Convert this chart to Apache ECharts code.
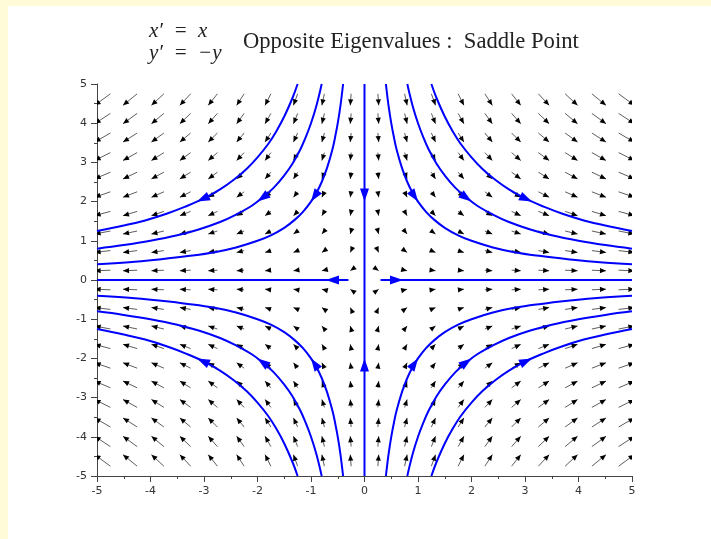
<!DOCTYPE html>
<html>
<head>
<meta charset="utf-8">
<script src="https://cdn.jsdelivr.net/npm/echarts@6/dist/echarts.min.js"></script>
<style>
  html, body { margin: 0; padding: 0; background: #fffad8; width: 711px; height: 539px; overflow: hidden; }
  #chart { position: absolute; left: 8px; top: 6px; width: 703px; height: 533px; background: #ffffff; }
</style>
</head>
<body>
<div id="chart"></div>
<script>
// Saddle point system: x' = x, y' = -y

// Sample grid of the direction field
const gridX = [-4.75, -4.25, -3.75, -3.25, -2.75, -2.25, -1.75, -1.25, -0.75, -0.25,
               0.25, 0.75, 1.25, 1.75, 2.25, 2.75, 3.25, 3.75, 4.25, 4.75];
const gridY = [-4.75, -4.25, -3.75, -3.25, -2.75, -2.25, -1.75, -1.25, -0.75, -0.25,
               0.25, 0.75, 1.25, 1.75, 2.25, 2.75, 3.25, 3.75, 4.25, 4.75];
// arrow length per unit of speed (in axis units)
const fieldScale = 0.062;

// Orbits of the first quadrant (x*y constant); the other quadrants mirror them
const orbitA = [[0.4, 5], [0.45, 4.44], [0.5, 4], [0.55, 3.64], [0.6, 3.33], [0.7, 2.86], [0.8, 2.5],
                [0.9, 2.22], [1, 2], [1.15, 1.74], [1.3, 1.54], [1.5, 1.33], [1.75, 1.14], [2, 1],
                [2.4, 0.83], [2.8, 0.71], [3.3, 0.61], [3.8, 0.53], [4.4, 0.45], [5, 0.4]];
const orbitB = [[0.8, 5], [0.9, 4.44], [1, 4], [1.1, 3.64], [1.2, 3.33], [1.35, 2.96], [1.5, 2.67],
                [1.7, 2.35], [1.9, 2.11], [2.1, 1.9], [2.4, 1.67], [2.7, 1.48], [3.1, 1.29],
                [3.5, 1.14], [4, 1], [4.5, 0.89], [5, 0.8]];
const orbitC = [[1.25, 5], [1.35, 4.63], [1.5, 4.17], [1.65, 3.79], [1.8, 3.47], [2, 3.13],
                [2.2, 2.84], [2.45, 2.55], [2.7, 2.31], [3, 2.08], [3.35, 1.87], [3.7, 1.69],
                [4.1, 1.52], [4.5, 1.39], [5, 1.25]];
// Orbits along the eigen-directions
const axisOrbitUp = [[0, 5], [0, 0]];
const axisOrbitDown = [[0, -5], [0, 0]];
const axisOrbitRight = [[0.3, 0], [5, 0]];
const axisOrbitLeft = [[-0.3, 0], [-5, 0]];
// Direction marks on the orbits (tip positions)
const orbitArrowTips = [[1, 2], [2, 2], [3.13, 2]];
const axisArrowTips = [[0, 2], [0, -2], [0.72, 0], [-0.72, 0]];

const tickValues = [-5, -4, -3, -2, -1, 0, 1, 2, 3, 4, 5];

// the vector field of the system
function field(x, y) { return [x, -y]; }

function mirror(points, sx, sy) { return points.map(p => [p[0] * sx, p[1] * sy]); }

const quadrants = [[1, 1], [-1, 1], [1, -1], [-1, -1]];
const orbitLines = [];
quadrants.forEach(q => [orbitA, orbitB, orbitC].forEach(o => orbitLines.push(mirror(o, q[0], q[1]))));
orbitLines.push(axisOrbitUp, axisOrbitDown, axisOrbitRight, axisOrbitLeft);

const arrowTips = [];
quadrants.forEach(q => orbitArrowTips.forEach(p => arrowTips.push([p[0] * q[0], p[1] * q[1]])));
axisArrowTips.forEach(p => arrowTips.push(p));

const fieldData = [];
gridX.forEach(x => gridY.forEach(y => fieldData.push([x, y])));

function headPoints(tip, ux, uy, len, half) {
  const bx = tip[0] - ux * len, by = tip[1] - uy * len;
  return [[tip[0], tip[1]], [bx - uy * half, by + ux * half], [bx + uy * half, by - ux * half]];
}

const chart = echarts.init(document.getElementById('chart'), null, { renderer: 'canvas' });

const series = [];
orbitLines.forEach(pts => {
  series.push({
    type: 'line',
    data: pts,
    showSymbol: false,
    smooth: 0.4,
    clip: true,
    silent: true,
    lineStyle: { color: '#0000ff', width: 2 },
    z: 3
  });
});

series.push({
  type: 'custom',
  data: fieldData,
  clip: true,
  silent: true,
  z: 2,
  renderItem(params, api) {
    const x = api.value(0), y = api.value(1);
    const f = field(x, y);
    const p0 = api.coord([x, y]);
    const p1 = api.coord([x + f[0] * fieldScale, y + f[1] * fieldScale]);
    const dx = p1[0] - p0[0], dy = p1[1] - p0[1];
    const len = Math.hypot(dx, dy) || 1;
    const ux = dx / len, uy = dy / len;
    return {
      type: 'group',
      children: [
        { type: 'line', shape: { x1: p0[0], y1: p0[1], x2: p1[0], y2: p1[1] },
          style: { stroke: '#333', lineWidth: 0.8 } },
        { type: 'polygon', shape: { points: headPoints(p1, ux, uy, 6, 2.6) },
          style: { fill: '#000' } }
      ]
    };
  }
});

series.push({
  type: 'custom',
  data: arrowTips,
  clip: true,
  silent: true,
  z: 4,
  renderItem(params, api) {
    const x = api.value(0), y = api.value(1);
    const f = field(x, y);
    const p0 = api.coord([x, y]);
    const p1 = api.coord([x + f[0] * 0.01, y + f[1] * 0.01]);
    const dx = p1[0] - p0[0], dy = p1[1] - p0[1];
    const len = Math.hypot(dx, dy) || 1;
    return {
      type: 'polygon',
      shape: { points: headPoints(p0, dx / len, dy / len, 13, 4.5) },
      style: { fill: '#0000ff' }
    };
  }
});

const axisCommon = {
  type: 'value',
  min: -5,
  max: 5,
  interval: 1,
  axisLine: { show: true, onZero: false, lineStyle: { color: '#444', width: 1 } },
  axisTick: { show: true, inside: false, length: 6, lineStyle: { color: '#444' } },
  minorTick: { show: true, splitNumber: 2, length: 3, lineStyle: { color: '#444' } },
  splitLine: { show: false },
  axisLabel: {
    color: '#333',
    fontFamily: 'DejaVu Sans',
    fontSize: 11,
    formatter: v => (tickValues.indexOf(v) >= 0 ? String(v) : '')
  }
};

chart.setOption({
  animation: false,
  grid: { left: 89, top: 78, width: 535, height: 392, containLabel: false },
  xAxis: Object.assign({}, axisCommon, {
    position: 'bottom',
    axisLabel: Object.assign({}, axisCommon.axisLabel, { margin: 10 })
  }),
  yAxis: Object.assign({}, axisCommon, {
    position: 'left',
    axisLabel: Object.assign({}, axisCommon.axisLabel, { margin: 10 })
  }),
  graphic: [
    { type: 'text', left: 141, top: 15,
      style: { text: 'x′\u2002=\u2002x', font: 'italic 21px "Liberation Serif"', fill: '#222' } },
    { type: 'text', left: 141, top: 37,
      style: { text: 'y′\u2002=\u2002−y', font: 'italic 21px "Liberation Serif"', fill: '#222' } },
    { type: 'text', left: 235, top: 25,
      style: { text: 'Opposite Eigenvalues :\u2002Saddle Point', font: '22.6px "Liberation Serif"', fill: '#222' } }
  ],
  series: series
});
</script>
</body>
</html>
